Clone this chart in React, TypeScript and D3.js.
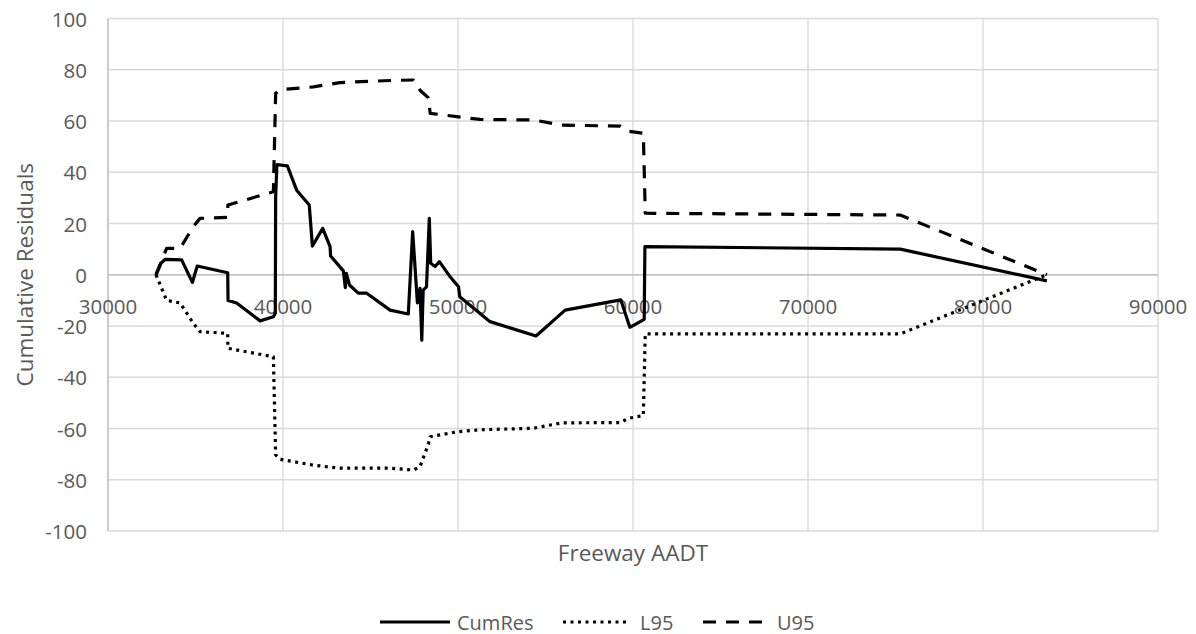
import React from "react";
import * as d3 from "d3";

// CumRes curve: [Freeway AADT, cumulative residual]
const cumRes: [number, number][] = [
  [32744, 0], [33030, 4.5], [33260, 6], [34210, 5.8], [34820, -3], [35100, 3.4],
  [36840, 0.8], [36860, -10], [37350, -11], [38690, -18], [39450, -16.4],
  [39560, -15], [39580, 30], [39650, 43], [40250, 42.5], [40780, 33],
  [41500, 27.2], [41680, 11.2], [42270, 18.1], [42690, 11], [42720, 7.3],
  [43450, 1.5], [43560, -5], [43620, 0.5], [43800, -4], [44300, -7.2],
  [44780, -7.2], [46120, -13.8], [47160, -15.3], [47410, 16.8], [47680, -11],
  [47830, -5.3], [47930, -25.5], [48010, -6], [48200, -4.7], [48360, 22],
  [48440, 4.5], [48690, 3.2], [48940, 5.1], [49550, -0.8], [50030, -4.7],
  [50100, -8.6], [51830, -18.3], [54460, -23.9], [56120, -13.8], [59300, -9.8],
  [59820, -20.5], [60640, -17.4], [60680, 11], [75270, 10], [83650, -2.4],
];

// confidence bounds share the same AADT points
const boundX = [
  32744, 33350, 34120, 34880, 35260, 36840, 36850, 39450, 39580, 39830,
  41730, 43260, 46120, 47450, 47830, 48310, 48410, 49930, 51260, 54310,
  55930, 59270, 59740, 60590, 60700, 75270, 83650,
];
const u95 = [
  0, 10.3, 10.3, 18.8, 22, 22.4, 27.2, 32.4, 70.8, 72.2,
  73.3, 75, 75.8, 76, 72, 69, 63, 61.7, 60.6, 60.4,
  58.4, 58, 56, 55.2, 24, 23.3, 0,
];
const l95 = [
  0, -10, -11, -19, -22.2, -22.9, -28.7, -32, -70.3, -72,
  -74.3, -75.5, -75.5, -76.2, -74.9, -66, -63.2, -61.3, -60.5, -59.9,
  -57.8, -57.7, -56, -55, -23.1, -23.1, 0,
];

const xTicks = [30000, 40000, 50000, 60000, 70000, 80000, 90000];
const yTicks = [-100, -80, -60, -40, -20, 0, 20, 40, 60, 80, 100];

const W = 1196;
const H = 634;
const FONT = "'Open Sans', sans-serif";
const TXT = "#595959";

export default function App() {
  const x = d3.scaleLinear().domain([30000, 90000]).range([108, 1158]);
  const y = d3.scaleLinear().domain([-100, 100]).range([531, 18.5]);

  const line = d3
    .line<[number, number]>()
    .x((d) => x(d[0]))
    .y((d) => y(d[1]));

  const upper = boundX.map((v, i) => [v, u95[i]] as [number, number]);
  const lower = boundX.map((v, i) => [v, l95[i]] as [number, number]);

  const legendY = 622;
  const legend = [
    { name: "CumRes", x0: 380, x1: 450, tx: 457, dash: "none" },
    { name: "L95", x0: 563, x1: 627, tx: 640, dash: "3 4.5" },
    { name: "U95", x0: 703, x1: 770, tx: 777, dash: "13 10" },
  ];

  return (
    <div style={{ position: "absolute", left: 0, top: 0 }}>
      <svg width={W} height={H} style={{ display: "block", background: "#fff" }}>
        {/* grid */}
        <g stroke="#d9d9d9" strokeWidth={1.3}>
          {yTicks.map((t) => (
            <line key={"h" + t} x1={x(30000)} x2={x(90000)} y1={y(t)} y2={y(t)} />
          ))}
          {xTicks.map((t) => (
            <line key={"v" + t} x1={x(t)} x2={x(t)} y1={y(100)} y2={y(-100)} />
          ))}
        </g>
        {/* axes */}
        <line x1={x(30000)} x2={x(30000)} y1={y(100)} y2={y(-100)} stroke="#bfbfbf" strokeWidth={1.3} />
        <line x1={x(30000)} x2={x(90000)} y1={y(0)} y2={y(0)} stroke="#bfbfbf" strokeWidth={1.5} />

        {/* tick labels */}
        <g fontFamily={FONT} fontSize={20.5} fill={TXT}>
          {yTicks.map((t) => (
            <text key={"yl" + t} x={87} y={y(t)} textAnchor="end" dominantBaseline="central">
              {t}
            </text>
          ))}
          {xTicks.map((t) => (
            <text key={"xl" + t} x={x(t)} y={306} textAnchor="middle" dominantBaseline="central">
              {t}
            </text>
          ))}
        </g>

        {/* series */}
        <g fill="none" stroke="#000" strokeWidth={3.2} strokeLinejoin="round">
          <path d={line(lower) || ""} strokeDasharray="3 4.5" />
          <path d={line(upper) || ""} strokeDasharray="13 10" />
          <path d={line(cumRes) || ""} />
        </g>

        {/* axis titles */}
        <text
          x={633}
          y={552}
          textAnchor="middle"
          dominantBaseline="central"
          fontFamily={FONT}
          fontSize={22.5}
          fill={TXT}
        >
          Freeway AADT
        </text>
        <text
          transform={`translate(24,${(y(100) + y(-100)) / 2}) rotate(-90)`}
          textAnchor="middle"
          dominantBaseline="central"
          fontFamily={FONT}
          fontSize={22.5}
          fill={TXT}
        >
          Cumulative Residuals
        </text>

        {/* legend */}
        <g fontFamily={FONT} fontSize={20} fill={TXT}>
          {legend.map((l) => (
            <g key={l.name}>
              <line
                x1={l.x0}
                x2={l.x1}
                y1={legendY}
                y2={legendY}
                stroke="#000"
                strokeWidth={3.2}
                strokeDasharray={l.dash}
              />
              <text x={l.tx} y={legendY} dominantBaseline="central">
                {l.name}
              </text>
            </g>
          ))}
        </g>
      </svg>
    </div>
  );
}
